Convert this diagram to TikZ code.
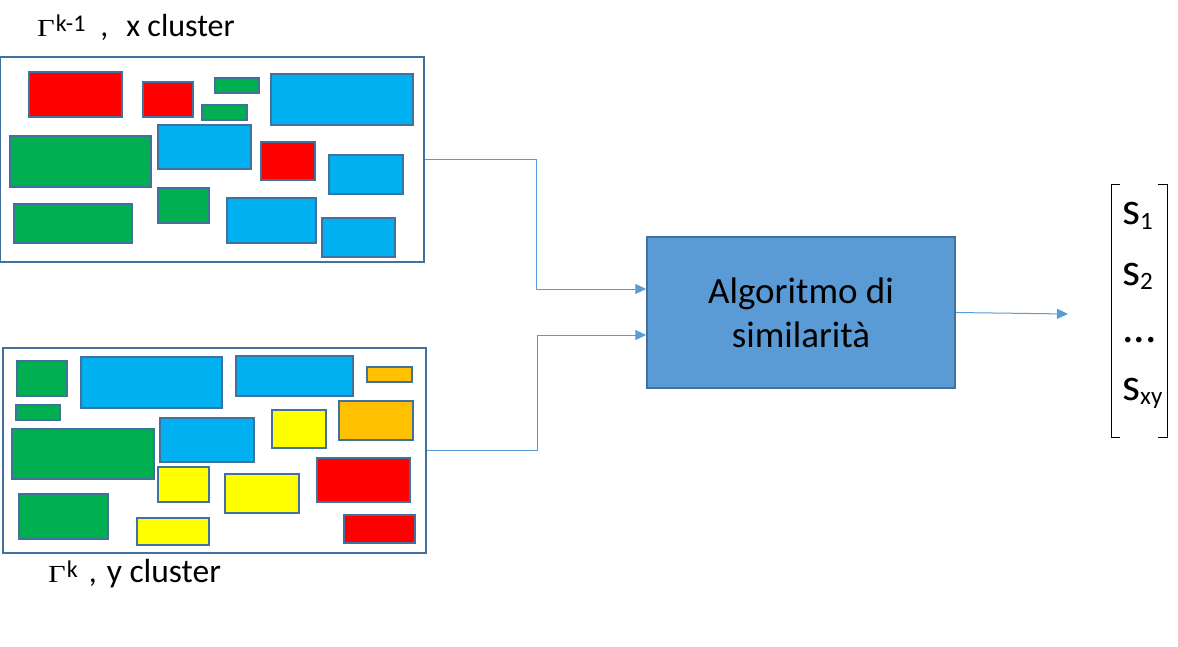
\documentclass[tikz,border=0pt]{standalone}
\usepackage{fontspec}
\setmainfont{Carlito}
\newfontfamily\gammafont{Liberation Serif}
\usepackage{xcolor}
\usepackage{graphicx}
\usetikzlibrary{arrows.meta,positioning,calc}

\definecolor{cred}{HTML}{FF0000}
\definecolor{cgreen}{HTML}{00B050}
\definecolor{cblue}{HTML}{00B0F0}
\definecolor{cyellow}{HTML}{FFFF00}
\definecolor{corange}{HTML}{FFC000}
\definecolor{edgeblue}{HTML}{41719C}
\definecolor{linkblue}{HTML}{5B9BD5}

\newcommand{\ssub}[1]{\raisebox{-4.5pt}{\fontsize{25}{25}\selectfont #1}}
\newcommand{\gam}[1]{\scalebox{1.25}[1]{\gammafont\fontsize{24.5}{24.5}\selectfont Γ}\kern1pt\raisebox{5pt}{\fontsize{24}{24}\selectfont #1}}

\tikzset{
    frame/.style={draw=edgeblue, line width=1.5pt, inner sep=0pt},
    cell/.style={draw=edgeblue, line width=1.5pt},
    link/.style={draw=linkblue, line width=1pt, -{Triangle[length=11pt,width=10pt]}},
    entry/.style={anchor=base west, inner sep=0pt, font=\fontsize{46}{46}\selectfont},
    caption/.style={anchor=base west, inner sep=0pt, font=\fontsize{32}{32}\selectfont}
}

\begin{document}
\begin{tikzpicture}[x=1pt, y=-1pt]
                        \useasboundingbox (0,0) rectangle (1178,647);

                        \node[frame, minimum width=424pt, minimum height=205pt] (xset) at (212,159.5) {};
                        \node[frame, minimum width=423pt, minimum height=205pt] (yset) at (214.5,450.5) {};

                        \foreach \xa/\ya/\xb/\yb/\col in {
                            29/72/122/117/cred, 143/82/193/117/cred, 215/78/259/93/cgreen,
                            202/105/247/120/cgreen, 271/74/413/125/cblue, 10/136/151/187/cgreen,
                            158/125/251/169/cblue, 261/142/315/180/cred, 329/155/403/194/cblue,
                            14/204/132/243/cgreen, 158/188/209/223/cgreen, 227/198/316/243/cblue,
                            322/218/395/257/cblue}
                            \draw[cell, fill=\col] (\xa,\ya) rectangle (\xb,\yb);

                        \foreach \xa/\ya/\xb/\yb/\col in {
                            17/361/67/396/cgreen, 81/357/222/408/cblue, 236/356/353/396/cblue,
                            367/367/412/382/corange, 16/405/60/420/cgreen, 339/401/413/440/corange,
                            272/410/326/448/cyellow, 160/418/254/462/cblue, 12/429/154/479/cgreen,
                            317/458/410/502/cred, 158/467/209/502/cyellow, 225/474/299/513/cyellow,
                            19/494/108/539/cgreen, 137/518/209/545/cyellow, 344/515/415/543/cred}
                            \draw[cell, fill=\col] (\xa,\ya) rectangle (\xb,\yb);

                        \node[caption] (xlabel) at (37,37) {\gam{k-1}\hspace{15pt},\hspace{18pt}x cluster};
                        \node[caption] (ylabel) at (48,582) {\gam{k}\hspace{11pt},\hspace{10pt}{\fontsize{33.5}{33.5}\selectfont y cluster}};

                        \node[draw=edgeblue, fill=linkblue, line width=1.5pt, minimum width=308pt, minimum height=151pt,
                            align=center, font=\fontsize{37}{44}\selectfont] (algo) at (801,312.5) {Algoritmo di\\similarità};

                        \coordinate (inx) at ([yshift=23.5pt]algo.west);
                        \coordinate (iny) at ([yshift=-22.5pt]algo.west);
                        \coordinate (sout) at (1068,314);

                        \node[entry] (s1) at (1122,225) {s\ssub{1}};
                        \node[entry] (s2) at (1122,285) {s\ssub{2}};
                        \node[entry] (sdots) at (1122,342) {...};
                        \node[entry] (sxy) at (1122,400) {s\ssub{xy}};

                        \draw (1120,184) -- (1111,184) -- (1111,437) -- (1120,437);
                        \draw (1158,184) -- (1167,184) -- (1167,437) -- (1158,437);

                        \draw[link] (xset.east) -- ++(112,0) |- (inx);
                        \draw[link] (yset.east) -- ++(111,0) |- (iny);
                        \draw[link] (algo.east) -- (sout);
                    \end{tikzpicture}
\end{document}
